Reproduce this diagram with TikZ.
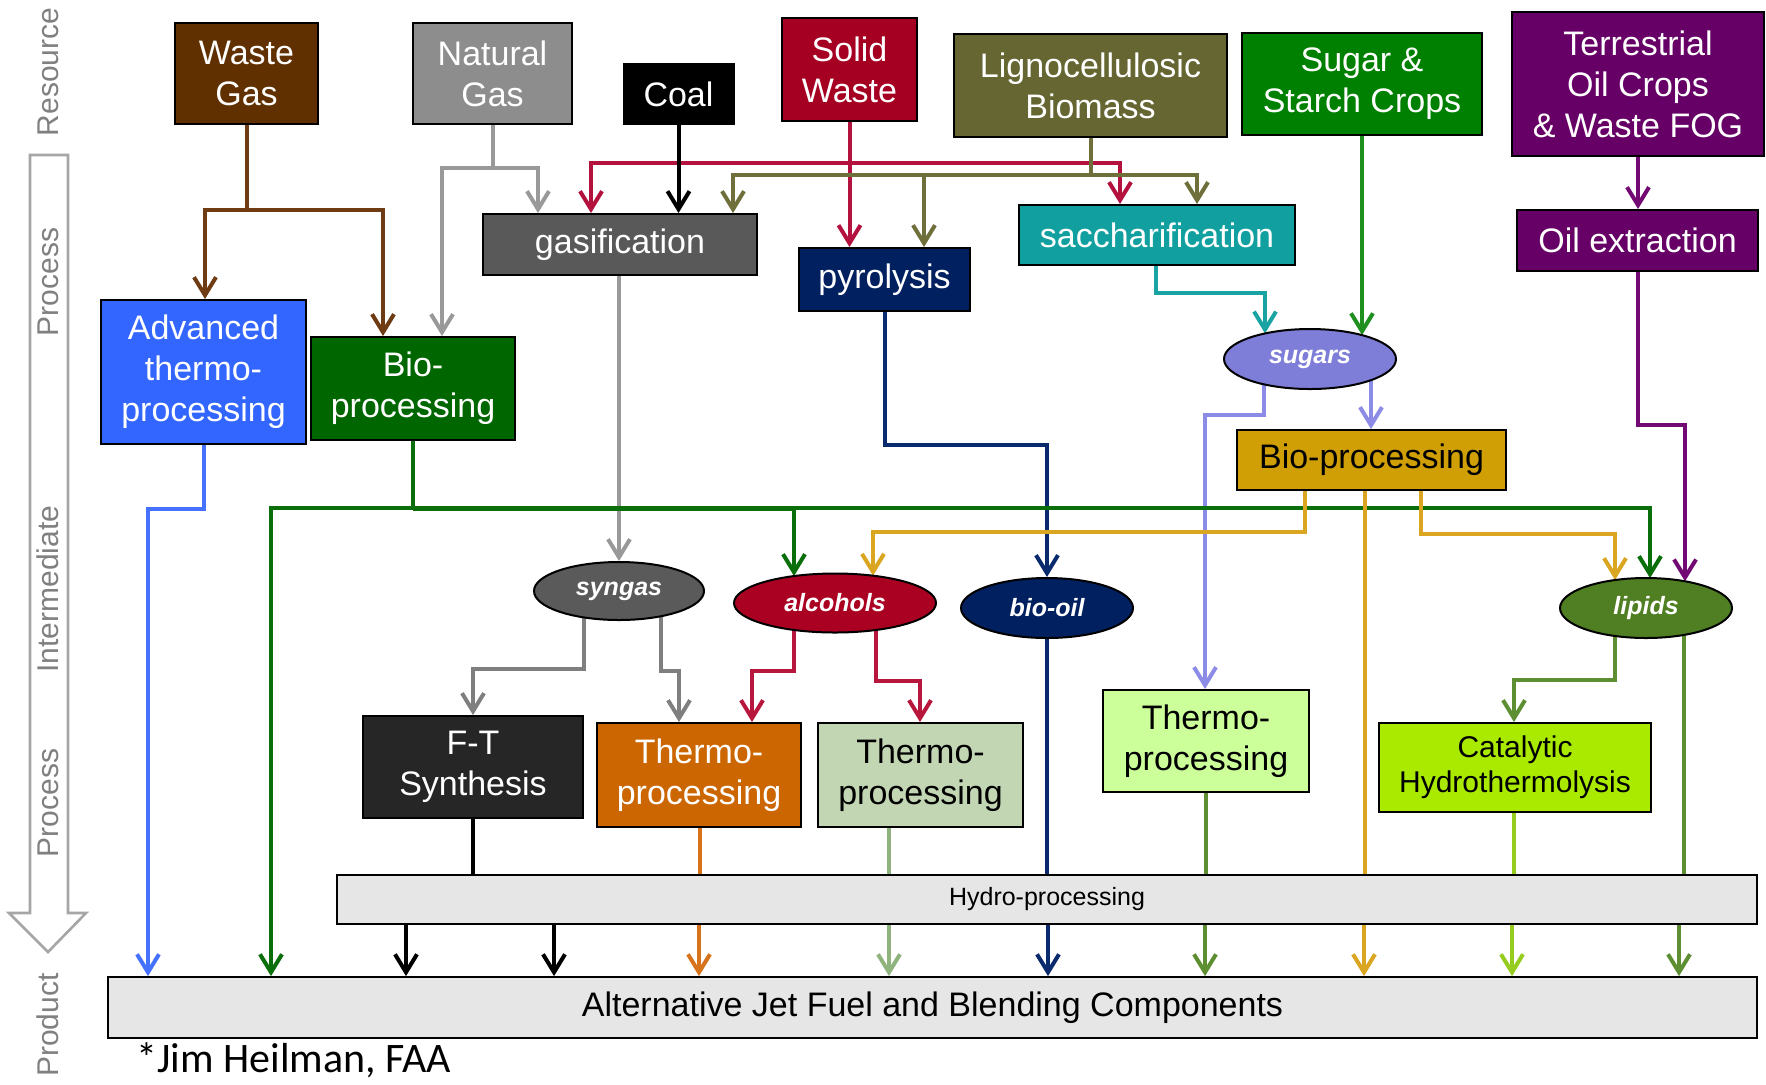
\documentclass[tikz,border=0pt]{standalone}
\usepackage{fontspec}
\setmainfont{Liberation Sans}
\newfontfamily\credfont{Carlito}
\usetikzlibrary{arrows.meta,shapes.geometric,backgrounds}
\newcommand\fsz[2]{\fontsize{#1}{#2}\selectfont}
\definecolor{fWaste}{HTML}{603000}\definecolor{lWaste}{HTML}{6E3B12}
\definecolor{fNat}{HTML}{8D8D8D}\definecolor{lNat}{HTML}{999999}
\definecolor{fSolid}{HTML}{A50021}\definecolor{lSolid}{HTML}{B4123E}
\definecolor{fLigno}{HTML}{666633}\definecolor{lLigno}{HTML}{6F6F3B}
\definecolor{fSugar}{HTML}{008000}\definecolor{lSugar}{HTML}{1F8F1F}
\definecolor{fTerr}{HTML}{660066}\definecolor{lTerr}{HTML}{730A73}
\definecolor{fGas}{HTML}{595959}
\definecolor{fPyro}{HTML}{002060}\definecolor{lPyro}{HTML}{0A2A6E}
\definecolor{fSacch}{HTML}{129F9F}\definecolor{lSacch}{HTML}{1AA3A3}
\definecolor{fAdv}{HTML}{3366FF}\definecolor{lAdv}{HTML}{4472FF}
\definecolor{fBioG}{HTML}{006600}\definecolor{lBioG}{HTML}{0A6E0A}
\definecolor{fBioY}{HTML}{D09E05}\definecolor{lBioY}{HTML}{DAA520}
\definecolor{fSugars}{HTML}{7E7ED8}\definecolor{lSugars}{HTML}{8C8CE6}
\definecolor{fSyn}{HTML}{5A5A5A}\definecolor{lSyn}{HTML}{7F7F7F}
\definecolor{fAlc}{HTML}{AA0022}\definecolor{lAlc}{HTML}{B8163C}
\definecolor{fLip}{HTML}{4F7F22}\definecolor{lLip}{HTML}{5E8E32}
\definecolor{fFT}{HTML}{262626}
\definecolor{fOrange}{HTML}{CC6600}\definecolor{lOrange}{HTML}{D7731A}
\definecolor{fSage}{HTML}{C3D6B4}\definecolor{lSage}{HTML}{8FB37D}
\definecolor{fLGreen}{HTML}{CCFF99}
\definecolor{fCat}{HTML}{AAEA00}\definecolor{lCat}{HTML}{96CC1E}
\definecolor{fHyd}{HTML}{E6E6E6}
\definecolor{sidegray}{HTML}{808080}\definecolor{arrowgray}{HTML}{A6A6A6}
\begin{document}
\begin{tikzpicture}[x=0.5pt,y=-0.5pt,
 box/.style={draw=black, line width=1pt, inner sep=0pt, align=center, text=white, font=\fsz{17pt}{20.5pt}},
 oval/.style={ellipse, draw=black, line width=1pt, inner sep=0pt, text=white, font=\fsz{12.5pt}{15pt}\bfseries\itshape},
 ln/.style={line width=2pt},
 arr/.style={line width=2pt, -{Straight Barb[length=9pt,width=11pt]}},
 side/.style={rotate=90, text=sidegray, font=\fsz{15pt}{18pt}},
]
\useasboundingbox (0,0) rectangle (1766,1084);
% process arrow
\draw[draw=arrowgray, line width=1.3pt, fill=white] (30,155) -- (30,913) -- (9,913) -- (48,952) -- (86,913) -- (68,913) -- (68,155) -- cycle;
\node[side] (lres) at (48,72) {Resource};
\node[side] (lp1) at (48,282) {Process};
\node[side] (lint) at (48,589) {Intermediate};
\node[side] (lp2) at (48,803) {Process};
\node[side] (lprod) at (48,1025) {Product};
% resources
\node[box, fill=fWaste, minimum width=71.5pt, minimum height=50.5pt] (WG) at (246.5,73.5) {Waste\\Gas};
\node[box, fill=fNat, minimum width=79.5pt, minimum height=50.5pt] (NG) at (492.5,73.5) {Natural\\Gas};
\node[box, fill=black, minimum width=55pt, minimum height=30pt] (COAL) at (678.5,94) {Coal};
\node[box, fill=fSolid, minimum width=67.5pt, minimum height=51.5pt] (SW) at (849.5,69.5) {Solid\\Waste};
\node[box, fill=fLigno, minimum width=136.5pt, minimum height=51.5pt] (LB) at (1090.5,85.5) {Lignocellulosic\\Biomass};
\node[box, fill=fSugar, minimum width=120pt, minimum height=51pt] (SSC) at (1362,84) {Sugar \&\\Starch Crops};
\node[box, fill=fTerr, minimum width=126pt, minimum height=72pt] (TOC) at (1638,84) {Terrestrial\\Oil Crops\\\& Waste FOG};
% first processes
\node[box, fill=fGas, minimum width=137pt, minimum height=30.5pt] (GASIF) at (620,244.5) {gasification};
\node[box, fill=fPyro, minimum width=85.5pt, minimum height=31.5pt] (PYRO) at (884.5,279.5) {pyrolysis};
\node[box, fill=fSacch, minimum width=138pt, minimum height=30pt] (SACCH) at (1157,235) {saccharification};
\node[box, fill=fTerr, minimum width=120.5pt, minimum height=30.5pt] (OILX) at (1637.5,240.5) {Oil extraction};
\node[box, fill=fAdv, minimum width=102.5pt, minimum height=72pt] (ADV) at (203.5,372) {Advanced\\thermo-\\processing};
\node[box, fill=fBioG, minimum width=102pt, minimum height=51.5pt] (BIOG) at (413,388.5) {Bio-\\processing};
\node[box, fill=fBioY, text=black, minimum width=134.5pt, minimum height=30pt] (BIOY) at (1371.5,460) {Bio-processing};
% intermediates
\node[oval, fill=fSugars, minimum width=86pt, minimum height=30pt] (SUGARS) at (1310,359) {sugars};
\node[oval, fill=fSyn, minimum width=85pt, minimum height=29pt] (SYN) at (619,591) {syngas};
\node[oval, fill=fAlc, minimum width=101pt, minimum height=29.5pt] (ALC) at (835,603) {alcohols};
\node[oval, fill=fPyro, minimum width=86pt, minimum height=30pt] (BOIL) at (1047,608) {bio-oil};
\node[oval, fill=fLip, minimum width=86pt, minimum height=30pt] (LIP) at (1646,608) {lipids};
% second processes
\node[box, fill=fFT, minimum width=110pt, minimum height=51pt] (FT) at (473,767) {F-T\\Synthesis};
\node[box, fill=fOrange, minimum width=102pt, minimum height=52pt] (THO) at (699,775) {Thermo-\\processing};
\node[box, fill=fSage, text=black, minimum width=102.5pt, minimum height=52pt] (THS) at (920.5,775) {Thermo-\\processing};
\node[box, fill=fLGreen, text=black, minimum width=103pt, minimum height=51pt] (THL) at (1206,741) {Thermo-\\processing};
\node[box, fill=fCat, text=black, minimum width=136pt, minimum height=44.5pt, font=\fsz{15pt}{17.5pt}] (CAT) at (1515,767.5) {Catalytic\\Hydrothermolysis};
\node[box, fill=fHyd, text=black, line width=0.9pt, minimum width=710pt, minimum height=24.5pt, font=\fsz{12.5pt}{15pt}] (HYD) at (1047,899.5) {Hydro-processing};
\node[box, fill=fHyd, text=black, line width=0.9pt, minimum width=824.5pt, minimum height=30.5pt] (PROD) at (932.5,1007.5) {Alternative Jet Fuel and Blending Components};
\node[anchor=base west, inner sep=0pt, font=\credfont\fsz{21pt}{25pt}] (CRED) at (136,1072) {*Jim Heilman, FAA};
% connectors
\begin{scope}[on background layer]
\fill[white] (0,0) rectangle (1766,1084);
\draw[arr,draw=lWaste] (WG.south) |- (205,210) -- (ADV.north -| 205,0);
\draw[arr,draw=lWaste] (WG.south |- 0,210) -| (BIOG.north -| 383,0);
\draw[arr,draw=lNat] (NG.south) |- (442,168) -- (BIOG.north -| 442,0);
\draw[arr,draw=lNat] (NG.south |- 0,168) -| (GASIF.north -| 538,0);
\draw[arr,draw=lSolid] (SW.south) -- (PYRO.north -| SW.south);
\draw[arr,draw=lSolid] (SW.south |- 0,163) -| (GASIF.north -| 591,0);
\draw[arr,draw=lSolid] (SW.south |- 0,163) -| (SACCH.north -| 1120,0);
\draw[arr,draw=black] (COAL.south) -- (GASIF.north -| COAL.south);
\draw[ln,draw=lLigno] (LB.south) -- (LB.south |- 0,175);
\draw[arr,draw=lLigno] (LB.south |- 0,175) -| (GASIF.north -| 733,0);
\draw[arr,draw=lLigno] (LB.south |- 0,175) -| (SACCH.north -| 1197,0);
\draw[arr,draw=lLigno] (924,175) -- (PYRO.north -| 924,0);
\draw[arr,draw=lSugar] (SSC.south) -- (1362,335.1);
\draw[arr,draw=lSacch] (SACCH.south -| 1156,0) |- (1265,293) -- (1265,333.4);
\draw[arr,draw=lSugars] (SUGARS.center -| 1371,0) -- (BIOY.north -| 1371,0);
\draw[arr,draw=lSugars] (SUGARS.center -| 1264,0) |- (1205,415) -- (THL.north -| 1205,0);
\draw[arr,draw=lTerr] (TOC.south) -- (OILX.north -| TOC.south);
\draw[arr,draw=lTerr] (OILX.south -| 1638,0) |- (1685,425) -- (1685,581.3);
\draw[arr,draw=lNat] (GASIF.south -| 619,0) -- (SYN.north);
\draw[arr,draw=lPyro] (PYRO.south) |- (1047,445) -- (BOIL.north);
\draw[arr,draw=lAdv] (ADV.south -| 204,0) |- (148,509) -- (PROD.north -| 148,0);
\draw[ln,draw=lBioG] (BIOG.south) -- (BIOG.south |- 0,508);
\draw[arr,draw=lBioG] (BIOG.south |- 0,508) -| (PROD.north -| 271,0);
\draw[arr,draw=lBioG] (BIOG.south |- 0,508) -| (794,576);
\draw[arr,draw=lBioG] (794,508) -| (1650,578);
\draw[draw=lBioG, line width=2.8pt] (BIOG.south |- 0,508.5) -- (794,508.5);
\draw[arr,draw=lBioY] (BIOY.south -| 1305,0) |- (873,532) -- (873,575.7);
\draw[ln,draw=lBioY] (BIOY.south -| 1365,0) -- (HYD.north -| 1365,0);
\draw[arr,draw=lBioY] (BIOY.south -| 1421,0) |- (1615,534) -- (1615,580);
\draw[arr,draw=lSyn] (SYN.center -| 584,0) |- (473,669) -- (FT.north);
\draw[arr,draw=lSyn] (SYN.center -| 661,0) |- (679,671) -- (THO.north -| 679,0);
\draw[arr,draw=lAlc] (ALC.center -| 794,0) |- (752,671) -- (THO.north -| 752,0);
\draw[arr,draw=lAlc] (ALC.center -| 876,0) |- (920,681) -- (THS.north -| 920,0);
\draw[ln,draw=lPyro] (BOIL.south) -- (HYD.north -| BOIL.south);
\draw[arr,draw=lLip] (LIP.center -| 1615,0) |- (1514,680) -- (CAT.north -| 1514,0);
\draw[ln,draw=lLip] (LIP.center -| 1684,0) -- (HYD.north -| 1684,0);
\draw[ln,draw=black] (FT.south) -- (HYD.north -| FT.south);
\draw[ln,draw=lOrange] (THO.south -| 700,0) -- (HYD.north -| 700,0);
\draw[ln,draw=lSage] (THS.south -| 889,0) -- (HYD.north -| 889,0);
\draw[ln,draw=lLip] (THL.south) -- (HYD.north -| THL.south);
\draw[ln,draw=lCat] (CAT.south -| 1514,0) -- (HYD.north -| 1514,0);
\foreach \xx/\cc in {406/black,554/black,699/lOrange,889/lSage,1048/lPyro,1205/lLip,1364/lBioY,1512/lCat,1679/lLip}
  \draw[arr,draw=\cc] (HYD.south -| \xx,0) -- (PROD.north -| \xx,0);
\end{scope}
\end{tikzpicture}
\end{document}
